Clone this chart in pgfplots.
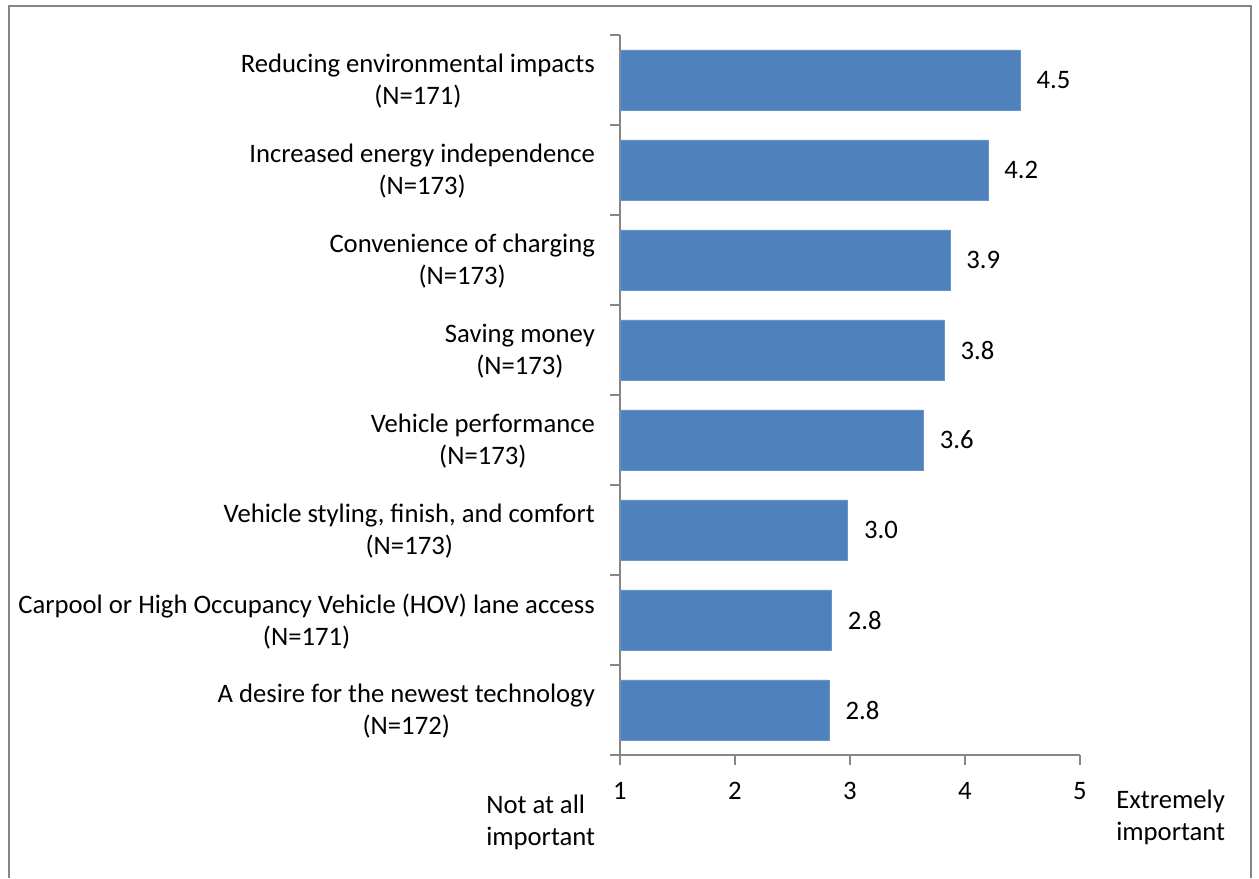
\documentclass[border=0pt]{standalone}
\usepackage{pgfplots}
\usepackage{pgfplotstable}
\pgfplotsset{compat=1.18}
\usepackage{fontspec}
\setmainfont{Carlito}
\definecolor{barblue}{HTML}{4F81BD}
\definecolor{axisgray}{HTML}{868686}
\pgfplotstableread{
y v
7 4.48
6 4.20
5 3.87
4 3.82
3 3.64
2 2.98
1 2.84
0 2.82
}\datatable
\begin{document}
\fontsize{20pt}{24pt}\selectfont
\begin{tikzpicture}[x=0.75pt,y=0.75pt]
\useasboundingbox (0,0) rectangle (1259,878);
\draw[axisgray, line width=1.6pt] (9,0) -- (9,872) -- (1251,872) -- (1251,0);
\begin{axis}[
  at={(465pt,92.25pt)}, anchor=south west,
  scale only axis, width=345pt, height=540pt,
  clip=false,
  xmin=0, xmax=4, ymin=-0.5, ymax=7.5,
  axis x line*=bottom, axis y line*=left,
  axis line style={axisgray, line width=1.1pt},
  every tick/.style={axisgray, line width=1.1pt},
  tick align=outside, major tick length=7.5pt,
  xtick={0,1,2,3,4}, xticklabels={1,2,3,4,5},
  xticklabel style={yshift=-6pt},
  ytick={-0.5,0.5,1.5,2.5,3.5,4.5,5.5,6.5,7.5},
  yticklabels={},
  extra y ticks={0,1,2,3,4,5,6,7},
  extra y tick labels={{A desire for the newest technology\\(N=172)},
    {Carpool or High Occupancy Vehicle (HOV) lane access\\(N=171)},
    {Vehicle styling, finish, and comfort\\(N=173)},
    {Vehicle performance\\(N=173)},
    {Saving money\\(N=173)},
    {Convenience of charging\\(N=173)},
    {Increased energy independence\\(N=173)},
    {Reducing environmental impacts\\(N=171)}},
  extra y tick style={major tick length=0pt, yticklabel style={align=center, xshift=-12pt, yshift=-1pt}},
  /pgf/number format/assume math mode=true,
  tick label style={font=\fontsize{20pt}{24pt}\selectfont},
]
\addplot[xbar, bar width=0.667, fill=barblue, draw=barblue!85!white, line width=0.5pt,
  nodes near coords={\pgfmathprintnumber[fixed,fixed zerofill,precision=1]{\pgfplotspointmeta}},
  point meta=explicit,
  nodes near coords style={anchor=west, inner sep=0pt, xshift=12pt, font=\fontsize{20pt}{24pt}\selectfont, text=black}]
  table[x expr=\thisrow{v}-1, y=y, meta=v] {\datatable};
\end{axis}
\node[anchor=west, align=left, inner sep=0pt, font=\fontsize{20pt}{24pt}\selectfont] at (486,56) {Not at all\\important};
\node[anchor=west, align=left, inner sep=0pt, font=\fontsize{20pt}{24pt}\selectfont] at (1116,60.5) {Extremely\\important};
\end{tikzpicture}
\end{document}
